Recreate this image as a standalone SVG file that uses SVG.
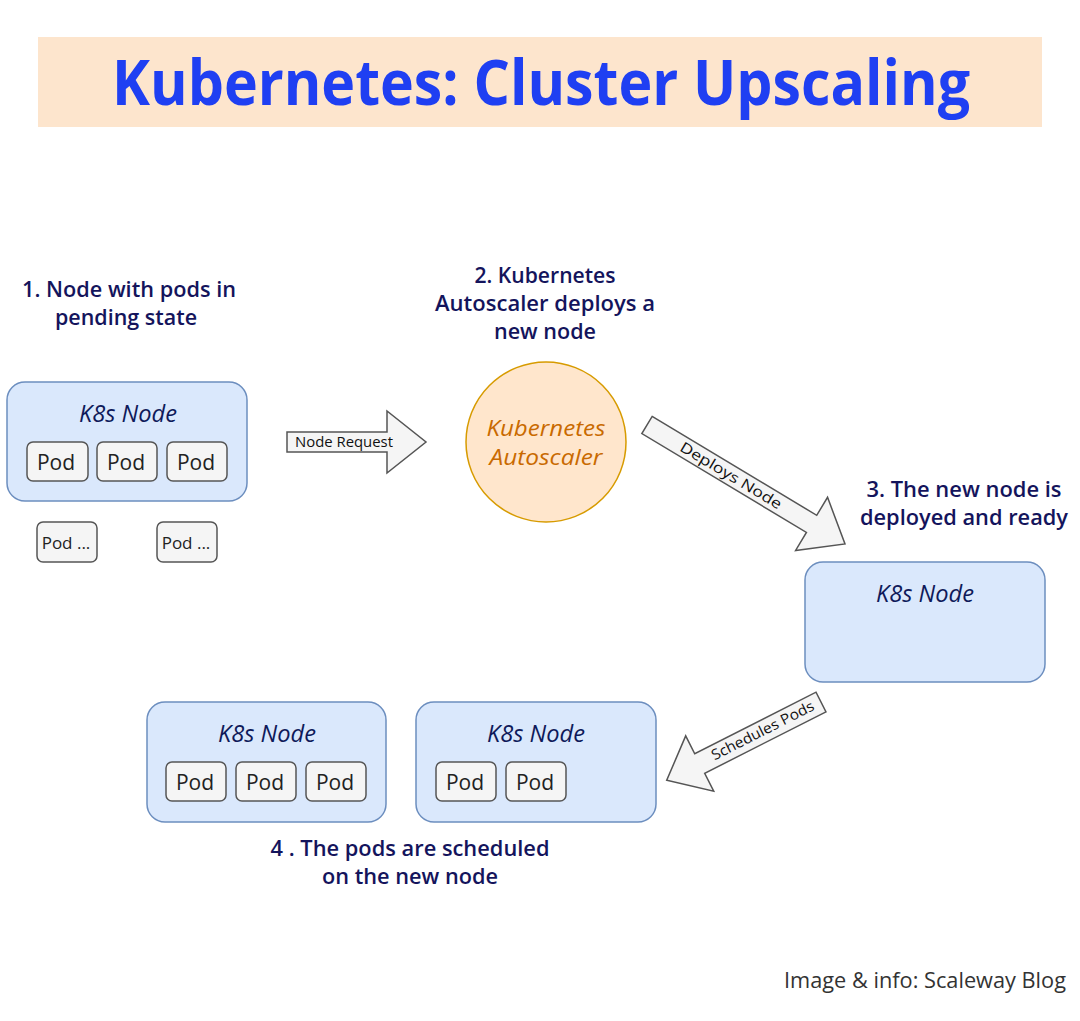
<svg xmlns="http://www.w3.org/2000/svg" width="1080" height="1021" viewBox="0 0 1080 1021">
<style>
.lbl{font-family:"Open Sans","DejaVu Sans",sans-serif;font-size:21px;font-weight:600;fill:#14145c;text-anchor:middle}
.node{fill:#dae8fc;stroke:#6c8ebf;stroke-width:1.5}
.ntitle{font-family:"Open Sans","DejaVu Sans",sans-serif;font-style:italic;font-size:23px;fill:#0f1a5a;text-anchor:middle}
.pod{fill:#f5f5f5;stroke:#555;stroke-width:1.5}
.podt{font-family:"Open Sans","DejaVu Sans",sans-serif;font-size:21px;fill:#222;text-anchor:middle}
.podd{font-family:"Open Sans","DejaVu Sans",sans-serif;font-size:17px;fill:#222;text-anchor:middle}
.arr{fill:#f5f5f5;stroke:#555;stroke-width:1.5;stroke-linejoin:miter}
.arrt{font-family:"Open Sans","DejaVu Sans",sans-serif;font-size:14.5px;fill:#111;text-anchor:middle}
.auto{font-family:"Open Sans","DejaVu Sans",sans-serif;font-style:italic;font-size:22px;fill:#c96a00;text-anchor:middle}
</style>
<rect width="1080" height="1021" fill="#ffffff"/>
<g id="title">
<rect x="38" y="37" width="1004" height="90" fill="#fde5cd"/>
<text x="541" y="105" font-family="'Open Sans','DejaVu Sans',sans-serif" font-weight="bold" font-size="62" fill="#1f3ff2" text-anchor="middle" textLength="858" lengthAdjust="spacingAndGlyphs">Kubernetes: Cluster Upscaling</text>
</g>
<g id="step1-label">
<text class="lbl" x="129" y="297" textLength="214" lengthAdjust="spacingAndGlyphs">1. Node with pods in</text>
<text class="lbl" x="126" y="325" textLength="142" lengthAdjust="spacingAndGlyphs">pending state</text>
</g>
<g id="node1">
<rect class="node" x="7" y="382" width="240" height="119" rx="18"/>
<text class="ntitle" x="128" y="422" textLength="98" lengthAdjust="spacingAndGlyphs">K8s Node</text>
<rect class="pod" x="27" y="442" width="61" height="39" rx="6"/>
<text class="podt" x="56" y="470">Pod</text>
<rect class="pod" x="97" y="442" width="60" height="39" rx="6"/>
<text class="podt" x="126" y="470">Pod</text>
<rect class="pod" x="167" y="442" width="60" height="39" rx="6"/>
<text class="podt" x="196" y="470">Pod</text>
</g>
<g id="pending-pod1">
<rect class="pod" x="37" y="522" width="60" height="40" rx="6"/>
<text class="podd" x="66" y="549">Pod ...</text>
</g>
<g id="pending-pod2">
<rect class="pod" x="157" y="522" width="60" height="40" rx="6"/>
<text class="podd" x="186" y="549">Pod ...</text>
</g>
<g id="step2-label">
<text class="lbl" x="545" y="283" textLength="141" lengthAdjust="spacingAndGlyphs">2. Kubernetes</text>
<text class="lbl" x="545" y="311" textLength="220" lengthAdjust="spacingAndGlyphs">Autoscaler deploys a</text>
<text class="lbl" x="545" y="339" textLength="102" lengthAdjust="spacingAndGlyphs">new node</text>
</g>
<g id="autoscaler">
<circle cx="546" cy="442" r="80" fill="#ffe6cc" stroke="#d79b00" stroke-width="1.5"/>
<text class="auto" x="546" y="436" textLength="119" lengthAdjust="spacingAndGlyphs">Kubernetes</text>
<text class="auto" x="546" y="465" textLength="113" lengthAdjust="spacingAndGlyphs">Autoscaler</text>
</g>
<g id="step3-label">
<text class="lbl" x="964" y="497" textLength="195" lengthAdjust="spacingAndGlyphs">3. The new node is</text>
<text class="lbl" x="964" y="525" textLength="208" lengthAdjust="spacingAndGlyphs">deployed and ready</text>
</g>
<g id="node3">
<rect class="node" x="805" y="562" width="240" height="120" rx="18"/>
<text class="ntitle" x="925" y="602" textLength="98" lengthAdjust="spacingAndGlyphs">K8s Node</text>
</g>
<g id="node4a">
<rect class="node" x="147" y="702" width="239" height="120" rx="18"/>
<text class="ntitle" x="267" y="742" textLength="98" lengthAdjust="spacingAndGlyphs">K8s Node</text>
<rect class="pod" x="166" y="762" width="60" height="39" rx="6"/>
<text class="podt" x="195" y="790">Pod</text>
<rect class="pod" x="236" y="762" width="60" height="39" rx="6"/>
<text class="podt" x="265" y="790">Pod</text>
<rect class="pod" x="306" y="762" width="60" height="39" rx="6"/>
<text class="podt" x="335" y="790">Pod</text>
</g>
<g id="node4b">
<rect class="node" x="416" y="702" width="240" height="120" rx="18"/>
<text class="ntitle" x="536" y="742" textLength="98" lengthAdjust="spacingAndGlyphs">K8s Node</text>
<rect class="pod" x="436" y="762" width="60" height="39" rx="6"/>
<text class="podt" x="465" y="790">Pod</text>
<rect class="pod" x="506" y="762" width="60" height="39" rx="6"/>
<text class="podt" x="535" y="790">Pod</text>
</g>
<g id="step4-label">
<text class="lbl" x="410" y="856" textLength="279" lengthAdjust="spacingAndGlyphs">4 . The pods are scheduled</text>
<text class="lbl" x="410" y="884" textLength="176" lengthAdjust="spacingAndGlyphs">on the new node</text>
</g>
<g id="connectors">
<g id="node-request">
<path class="arr" d="M287,432 L387,432 L387,411 L426,442 L387,473 L387,452 L287,452 Z"/>
<text class="arrt" x="344" y="447" textLength="98" lengthAdjust="spacingAndGlyphs">Node Request</text>
</g>
<g id="deploys-node" transform="translate(647,425) rotate(31)">
<path class="arr" d="M0,-10 L192,-10 L192,-31 L231,0 L192,31 L192,10 L0,10 Z"/>
<text class="arrt" x="98" y="5" textLength="116" lengthAdjust="spacingAndGlyphs">Deploys Node</text>
</g>
<g id="schedules-pods">
<path class="arr" transform="translate(821,702) rotate(153.1)" d="M0,-11 L136,-11 L136,-31 L173,0 L136,31 L136,11 L0,11 Z"/>
<text class="arrt" x="0" y="0" transform="translate(765,735) rotate(-26.9)" textLength="113" lengthAdjust="spacingAndGlyphs">Schedules Pods</text>
</g>
</g>
<text x="1066" y="988" font-family="'Open Sans','DejaVu Sans',sans-serif" font-size="22" fill="#333" text-anchor="end" textLength="282" lengthAdjust="spacingAndGlyphs">Image &amp; info: Scaleway Blog</text>
</svg>
